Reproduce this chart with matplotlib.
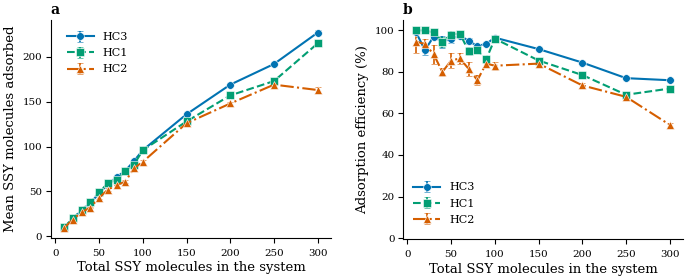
import matplotlib
matplotlib.use("Agg")
import matplotlib.pyplot as plt
import numpy as np

x = [10, 20, 30, 40, 50, 60, 70, 80, 90, 100, 150, 200, 250, 300]
series = ["HC3", "HC1", "HC2"]

# Panel a: mean molecules adsorbed
ads_hc3 = [10, 19, 29, 37, 48, 58, 66, 73, 84, 96, 136, 169, 192, 227]
ads_hc1 = [10, 20, 29.5, 38, 49, 59, 63, 72.5, 80, 96, 128, 157, 173, 215]
ads_hc2 = [9.5, 18.5, 27, 32, 43, 52, 57, 61, 76, 83, 126, 148, 169, 163]
ads_err_hc3 = [0.1, 0.5, 0.3, 1.2, 1.0, 0.6, 1.0, 0.8, 0.9, 1.0, 1.5, 2.0, 2.0, 2.5]
ads_err_hc1 = [0.1, 0.1, 0.3, 1.0, 0.8, 0.6, 1.5, 1.0, 1.5, 1.0, 1.5, 2.0, 2.0, 2.0]
ads_err_hc2 = [0.5, 0.5, 1.4, 0.8, 1.8, 1.5, 2.5, 2.0, 1.4, 2.0, 1.5, 2.0, 2.5, 3.0]

# Panel b: adsorption efficiency (%)
eff_hc3 = [99, 90.5, 97, 94.5, 96, 97.5, 95, 92.5, 93.5, 96.5, 91, 84.5, 77, 76]
eff_hc1 = [100, 100, 99, 94.5, 98, 98.5, 90, 90.5, 86, 96, 85.5, 78.5, 69, 72]
eff_hc2 = [94.5, 93.5, 88.5, 80, 85.5, 86.5, 81.5, 76, 84, 83, 84, 73.5, 68, 54.5]
eff_err_hc3 = [0.5, 2.5, 1.0, 3.0, 2.0, 1.0, 1.5, 1.0, 1.0, 1.0, 1.0, 0.8, 0.8, 0.8]
eff_err_hc1 = [0.2, 0.2, 1.0, 2.5, 1.5, 1.0, 2.0, 1.5, 1.5, 1.0, 1.0, 1.0, 0.8, 0.8]
eff_err_hc2 = [5.5, 2.5, 4.5, 2.0, 3.5, 2.5, 3.5, 2.5, 1.5, 2.0, 1.0, 1.0, 1.0, 1.0]

colors = ["#0173b2", "#029e73", "#d55e00"]
markers = ["o", "s", "^"]
styles = ["-", "--", "-."]

plt.rcParams["font.family"] = ["DejaVu Serif"]
plt.rcParams["font.size"] = 7

fig = plt.figure(figsize=(6.85, 2.78), dpi=100)
axa = fig.add_axes([0.075, 0.145, 0.408, 0.783])
axb = fig.add_axes([0.589, 0.14, 0.408, 0.788])

for ax, data, errs in [
    (axa, [ads_hc3, ads_hc1, ads_hc2], [ads_err_hc3, ads_err_hc1, ads_err_hc2]),
    (axb, [eff_hc3, eff_hc1, eff_hc2], [eff_err_hc3, eff_err_hc1, eff_err_hc2]),
]:
    for name, y, e, c, m, ls in zip(series, data, errs, colors, markers, styles):
        ax.errorbar(x, y, yerr=e, label=name, color=c, marker=m, linestyle=ls,
                    markersize=5.5, markeredgecolor="white", markeredgewidth=0.4,
                    linewidth=1.5, capsize=2.5, elinewidth=1.2, capthick=1.2)
    ax.spines["top"].set_visible(False)
    ax.spines["right"].set_visible(False)
    ax.set_xlabel("Total SSY molecules in the system", fontsize=9.5, labelpad=2.5)
    ax.set_xticks([0, 50, 100, 150, 200, 250, 300])
    ax.tick_params(labelsize=7.4, length=3.5)
    ax.tick_params(axis="x", pad=4.5)
    ax.tick_params(axis="y", pad=3)
    ax.set_xlim(-4.5, 315)

axa.set_ylim(-1.5, 241)
axa.set_yticks([0, 50, 100, 150, 200])
axa.set_ylabel("Mean SSY molecules adsorbed", fontsize=9.5, labelpad=4)
axa.legend(loc="upper left", frameon=False, fontsize=8, bbox_to_anchor=(0.02, 0.99),
           handlelength=2.4, labelspacing=0.55)

axb.set_ylim(-0.5, 105)
axb.set_yticks([0, 20, 40, 60, 80, 100])
axb.set_ylabel("Adsorption efficiency (%)", fontsize=9.5, labelpad=4)
axb.legend(loc="lower left", frameon=False, fontsize=8, bbox_to_anchor=(0.0, 0.02),
           handlelength=2.4, labelspacing=0.55)

fig.text(0.074, 0.965, "a", fontsize=10, fontweight="bold", ha="left", va="center")
fig.text(0.588, 0.965, "b", fontsize=10, fontweight="bold", ha="left", va="center")

fig.savefig("out.png", dpi=100)
